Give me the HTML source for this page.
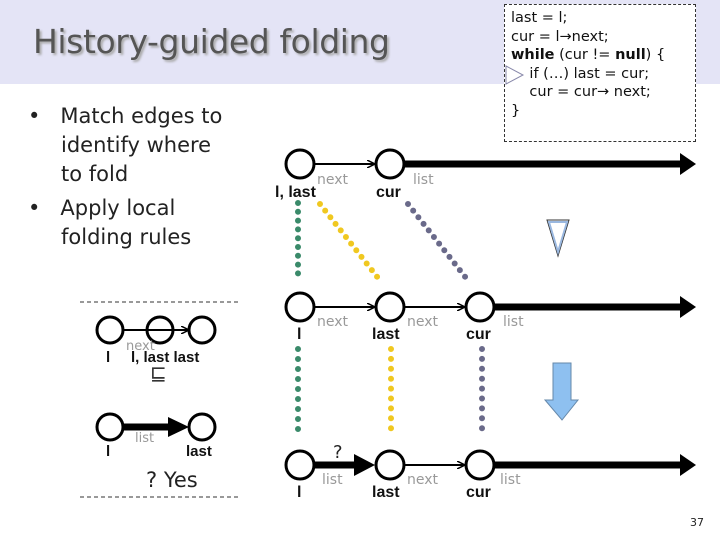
<!DOCTYPE html>
<html><head><style>
body{margin:0;width:720px;height:540px;position:relative;background:#fff;font-family:"DejaVu Sans","Liberation Sans",sans-serif;overflow:hidden}
.hdr{position:absolute;left:0;top:0;width:720px;height:84px;background:#e4e4f6}
.t{position:absolute;white-space:nowrap}
</style></head><body>
<div class="hdr"></div>
<div class="t" style="left:33px;top:22px;font-size:33px;color:#555;text-shadow:2px 2px 2px #aaa;letter-spacing:-0.4px">History-guided folding</div>
<div class="t" style="left:504px;top:4px;width:192px;height:138px;border:1px dashed #333;background:#fff;font-size:14.5px;line-height:18.5px;color:#111;padding:4px 0 0 6px;box-sizing:border-box">last = l;<br>cur = l→next;<br><b>while</b> (cur != <b>null</b>) {<br>&nbsp;&nbsp;&nbsp;&nbsp;if (…) last = cur;<br>&nbsp;&nbsp;&nbsp;&nbsp;cur = cur→ next;<br>}</div>
<div class="t" style="left:28px;top:102px;font-size:21px;line-height:29px;color:#222">
<div>•&nbsp;&nbsp; Match edges to</div><div style="padding-left:33px">identify where</div><div style="padding-left:33px">to fold</div>
<div style="margin-top:5px">•&nbsp;&nbsp; Apply local</div><div style="padding-left:33px">folding rules</div></div>
<svg width="720" height="540" style="position:absolute;left:0;top:0" font-family="DejaVu Sans, sans-serif">
<defs><marker id="a" markerWidth="8" markerHeight="8" refX="7" refY="4" orient="auto" markerUnits="userSpaceOnUse"><path d="M0,0 L8,4 L0,8" fill="none" stroke="#000" stroke-width="1.5"/></marker></defs>
<polygon points="506,66 523,75 506,84" fill="none" stroke="#88a" stroke-width="1"/>
<line x1="80" y1="302" x2="240" y2="302" stroke="#333" stroke-dasharray="4,3"/>
<line x1="80" y1="497" x2="240" y2="497" stroke="#333" stroke-dasharray="4,3"/>
<g stroke="#000" stroke-width="3" fill="#fff">
<line x1="124" y1="330" x2="188" y2="330" stroke-width="2" marker-end="url(#a)"/>
<circle cx="110" cy="330" r="13"/><circle cx="160" cy="330" r="13" fill="none"/><circle cx="202" cy="330" r="13"/>
<line x1="124" y1="427" x2="170" y2="427" stroke-width="7"/>
<circle cx="110" cy="427" r="13"/><circle cx="202" cy="427" r="13"/>
</g>
<polygon points="168,417 189,427 168,437" fill="#000"/>
<g font-size="15" fill="#111" font-weight="bold" font-family="Liberation Sans, sans-serif"><text x="106" y="362">l</text><text x="131" y="362">l, last last</text><text x="106" y="456">l</text><text x="186" y="456">last</text></g>
<g fill="#999" font-size="13"><text x="126" y="350">next</text><text x="135" y="442">list</text></g>
<text x="150" y="380" font-size="20" fill="#333">⊑</text>
<text x="146" y="487" font-size="21" fill="#222">? Yes</text>
<g fill="none" stroke-linecap="round" stroke-width="6">
<line x1="298" y1="203" x2="298" y2="274" stroke="#3a8a6a" stroke-dasharray="0,8.8"/>
<line x1="298" y1="349" x2="298" y2="439" stroke="#3a8a6a" stroke-dasharray="0,10"/>
<line x1="320" y1="204" x2="382" y2="283" stroke="#f0c820" stroke-dasharray="0,8.4"/>
<line x1="391" y1="349" x2="391" y2="438" stroke="#f0c820" stroke-dasharray="0,9.9"/>
<line x1="408" y1="204" x2="470" y2="283" stroke="#6a6a8a" stroke-dasharray="0,8.4"/>
<line x1="482" y1="349" x2="482" y2="438" stroke="#6a6a8a" stroke-dasharray="0,9.9"/>
</g>
<g stroke="#000" stroke-width="3" fill="#fff">
<line x1="404" y1="164" x2="685" y2="164" stroke-width="7"/>
<line x1="314" y1="164" x2="374" y2="164" stroke-width="2" marker-end="url(#a)"/>
<circle cx="300" cy="164" r="14"/><circle cx="390" cy="164" r="14"/>
<line x1="494" y1="307" x2="685" y2="307" stroke-width="7"/>
<line x1="314" y1="307" x2="374" y2="307" stroke-width="2" marker-end="url(#a)"/>
<line x1="404" y1="307" x2="464" y2="307" stroke-width="2" marker-end="url(#a)"/>
<circle cx="300" cy="307" r="14"/><circle cx="390" cy="307" r="14"/><circle cx="480" cy="307" r="14"/>
<line x1="494" y1="465" x2="685" y2="465" stroke-width="7"/>
<line x1="314" y1="465" x2="356" y2="465" stroke-width="7"/>
<line x1="404" y1="465" x2="464" y2="465" stroke-width="2" marker-end="url(#a)"/>
<circle cx="300" cy="465" r="14"/><circle cx="390" cy="465" r="14"/><circle cx="480" cy="465" r="14"/>
</g>
<g fill="#000"><polygon points="680,153 696,164 680,175"/><polygon points="680,296 696,307 680,318"/><polygon points="680,454 696,465 680,476"/><polygon points="354,454 375,465 354,476"/></g>
<g font-size="16" fill="#111" font-weight="bold" font-family="Liberation Sans, sans-serif">
<text x="275" y="197">l, last</text><text x="376" y="197">cur</text>
<text x="297" y="339">l</text><text x="372" y="339">last</text><text x="466" y="339">cur</text>
<text x="297" y="497">l</text><text x="372" y="497">last</text><text x="466" y="497">cur</text>
</g>
<g fill="#999" font-size="14"><text x="317" y="184">next</text><text x="413" y="184">list</text>
<text x="317" y="326">next</text><text x="407" y="326">next</text><text x="503" y="326">list</text>
<text x="322" y="484">list</text><text x="407" y="484">next</text><text x="500" y="484">list</text></g>
<text x="333" y="458" font-size="18" fill="#222">?</text>
<polygon points="547,220 569,220 558,256" fill="#fff" stroke="#333" stroke-width="1"/>
<polygon points="549,222 567,222 558,252" fill="none" stroke="#9ab8e0" stroke-width="2"/>
<polygon points="553,363 571,363 571,400 578,400 562,420 545,400 553,400" fill="#8ec0f0" stroke="#6688aa" stroke-width="1"/>
<text x="690" y="526" font-size="11" fill="#222">37</text>
</svg>
</body></html>
